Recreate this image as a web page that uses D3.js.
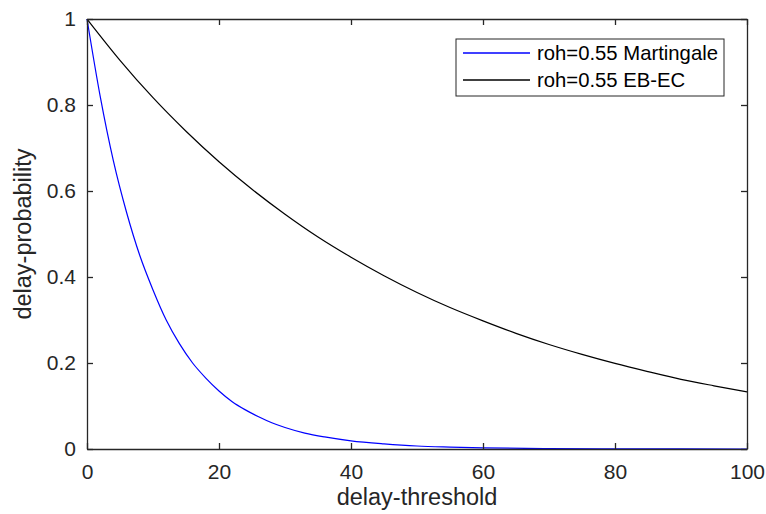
<!DOCTYPE html>
<html>
<head>
<meta charset="utf-8">
<script src="https://cdn.jsdelivr.net/npm/d3@7"></script>
<style>
  body { margin: 0; background: #fff; }
  svg { display: block; font-family: "Liberation Sans", Arial, sans-serif; }
  .axis text { fill: #262626; font-size: 21px; }
  .axis path, .axis line { stroke: #262626; }
</style>
</head>
<body>
<svg width="766" height="514"></svg>
<script>
// delay-threshold samples and read-off probabilities
var martingaleX = [0, 2, 4, 6, 8, 10, 12, 14, 16, 18, 20, 22, 24, 26, 28, 30, 33, 36, 40, 45, 50, 55, 60, 70, 80, 90, 100];
var martingaleY = [1, 0.82, 0.67, 0.55, 0.45, 0.37, 0.30, 0.245, 0.20, 0.165, 0.135, 0.11, 0.091, 0.075, 0.061, 0.050, 0.037, 0.028, 0.019, 0.012, 0.007, 0.0045, 0.0027, 0.001, 0.0004, 0.0001, 0];

var ebecX = [0, 5, 10, 15, 20, 25, 30, 35, 40, 45, 50, 55, 60, 65, 70, 75, 80, 85, 90, 95, 100];
var ebecY = [1, 0.904, 0.817, 0.739, 0.668, 0.604, 0.546, 0.493, 0.446, 0.403, 0.364, 0.329, 0.298, 0.269, 0.243, 0.220, 0.199, 0.180, 0.162, 0.147, 0.133];

var seriesNames = ["roh=0.55 Martingale", "roh=0.55 EB-EC"];
var seriesColors = ["#0000ff", "#000000"];
var xTicks = [0, 20, 40, 60, 80, 100];
var yTicks = [0, 0.2, 0.4, 0.6, 0.8, 1];

var margin = { left: 87, top: 19, right: 19, bottom: 65 };
var width = 766, height = 514;

var svg = d3.select("svg");

var x = d3.scaleLinear().domain([0, 100]).range([margin.left, width - margin.right]);
var y = d3.scaleLinear().domain([0, 1]).range([height - margin.bottom, margin.top]);

var series = [
  martingaleX.map(function(d, i) { return [d, martingaleY[i]]; }),
  ebecX.map(function(d, i) { return [d, ebecY[i]]; })
];

var line = d3.line()
  .x(function(d) { return x(d[0]); })
  .y(function(d) { return y(d[1]); })
  .curve(d3.curveMonotoneX);

svg.append("g")
  .selectAll("path")
  .data(series)
  .enter().append("path")
    .attr("fill", "none")
    .attr("stroke", function(d, i) { return seriesColors[i]; })
    .attr("stroke-width", 1.2)
    .attr("d", line);

// axes, MATLAB style: ticks point inward, box on
var fmt = function(d) { return d3.format("")(+d.toFixed(1)); };

svg.append("g")
  .attr("class", "axis")
  .attr("transform", "translate(0," + y(0) + ")")
  .call(d3.axisBottom(x).tickValues(xTicks).tickSizeInner(-6).tickSizeOuter(0).tickPadding(15).tickFormat(fmt));

svg.append("g")
  .attr("class", "axis")
  .attr("transform", "translate(" + x(0) + ",0)")
  .call(d3.axisLeft(y).tickValues(yTicks).tickSizeInner(-6).tickSizeOuter(0).tickPadding(11).tickFormat(fmt));

svg.append("g")
  .attr("class", "axis")
  .attr("transform", "translate(0," + y(1) + ")")
  .call(d3.axisTop(x).tickValues(xTicks).tickSizeInner(-6).tickSizeOuter(0).tickFormat(""));

svg.append("g")
  .attr("class", "axis")
  .attr("transform", "translate(" + x(100) + ",0)")
  .call(d3.axisRight(y).tickValues(yTicks).tickSizeInner(-6).tickSizeOuter(0).tickFormat(""));

svg.selectAll(".axis path, .axis line").attr("stroke-width", 1.3);

// axis labels
svg.append("text")
  .attr("x", (x(0) + x(100)) / 2)
  .attr("y", 505)
  .attr("text-anchor", "middle")
  .attr("fill", "#262626")
  .style("font-size", "23.5px")
  .text("delay-threshold");

svg.append("text")
  .attr("transform", "translate(31," + (y(0) + y(1)) / 2 + ") rotate(-90)")
  .attr("text-anchor", "middle")
  .attr("fill", "#262626")
  .style("font-size", "23.5px")
  .text("delay-probability");

// legend
var legend = svg.append("g").attr("transform", "translate(456,39)");
legend.append("rect")
  .attr("width", 268)
  .attr("height", 57)
  .attr("fill", "#fff")
  .attr("stroke", "#262626")
  .attr("stroke-width", 1);

seriesNames.forEach(function(name, i) {
  var row = legend.append("g")
    .attr("transform", "translate(0," + (14 + i * 27) + ")");
  row.append("line")
    .attr("x1", 7).attr("x2", 74)
    .attr("y1", 0).attr("y2", 0)
    .style("stroke", seriesColors[i])
    .style("stroke-width", 1.3);
  row.append("text")
    .attr("x", 81)
    .attr("dy", "0.35em")
    .attr("fill", "#000")
    .style("font-size", "20.3px")
    .text(name);
});
</script>
</body>
</html>
